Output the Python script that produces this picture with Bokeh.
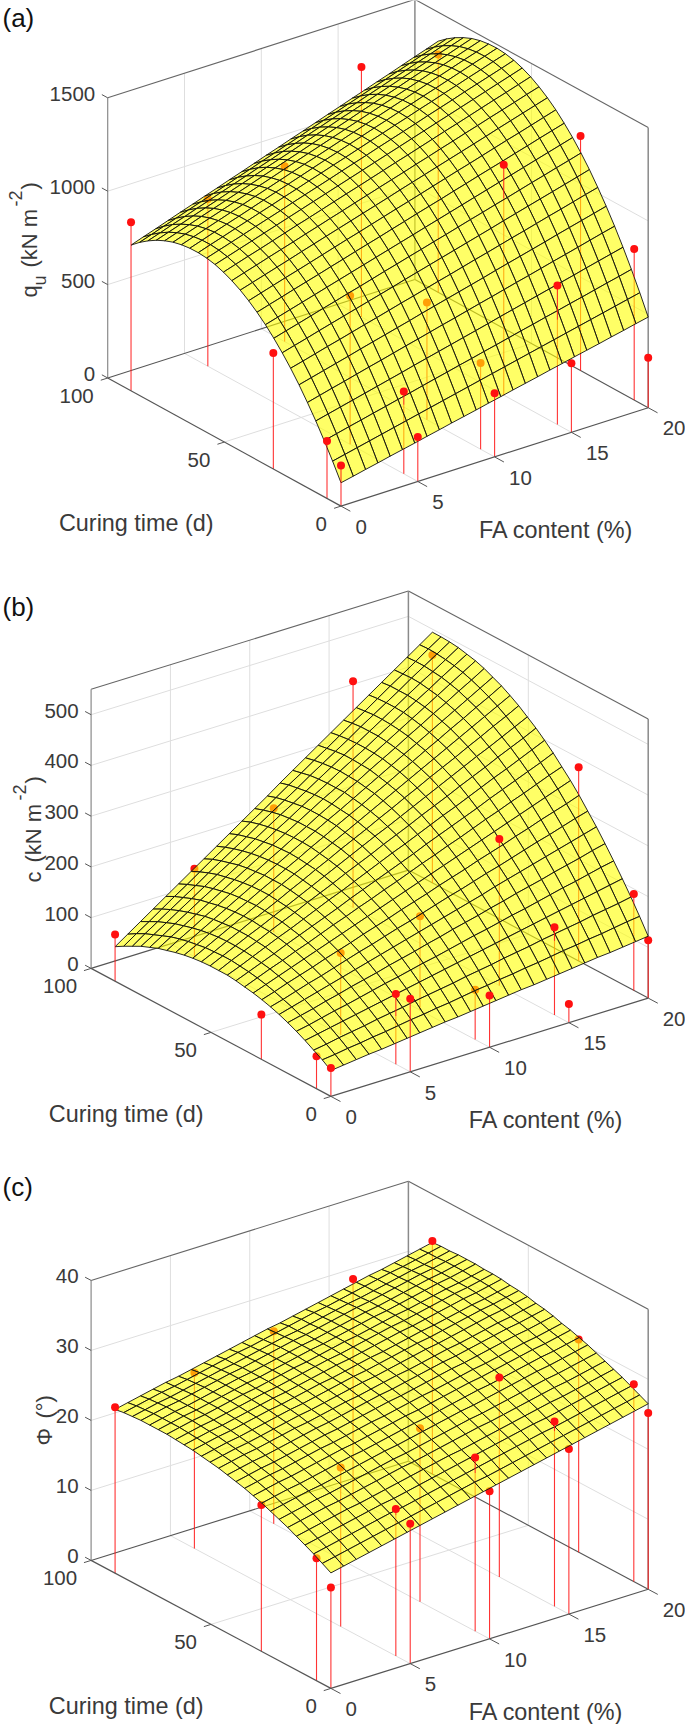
from bokeh.plotting import figure
from bokeh.layouts import column
from bokeh.embed import file_html
from bokeh.resources import INLINE
from bokeh.core.properties import value
import numpy as np

FA = [0.0,0.8,1.6,2.4,3.2,4.0,4.8,5.6,6.4,7.2,8.0,8.8,9.6,10.4,11.2,12.0,12.8,13.6,14.4,15.2,16.0,16.8,17.6,18.4,19.2,20.0]
CT = [0.0,3.6,7.2,10.8,14.4,18.0,21.6,25.2,28.8,32.4,36.0,39.6,43.2,46.8,50.4,54.0,57.6,61.2,64.8,68.4,72.0,75.6,79.2,82.8,86.4,90.0]

SURF_A = [
[125,139,154,168,183,197,211,226,240,255,269,283,298,312,327,341,355,370,384,399,413,427,442,456,471,485],
[216,231,246,261,276,291,306,321,336,351,366,381,396,411,426,441,456,471,486,501,516,531,546,561,576,591],
[301,317,333,348,364,379,395,410,426,442,457,473,488,504,519,535,551,566,582,597,613,628,644,660,675,691],
[382,398,414,430,446,462,478,494,511,527,543,559,575,591,607,624,640,656,672,688,704,720,737,753,769,785],
[456,473,490,506,523,540,556,573,590,606,623,640,656,673,690,706,723,740,756,773,790,806,823,840,857,873],
[526,543,560,577,594,612,629,646,663,680,698,715,732,749,766,783,801,818,835,852,869,887,904,921,938,955],
[590,607,625,643,660,678,696,713,731,749,766,784,802,819,837,855,872,890,908,925,943,961,978,996,1014,1031],
[648,666,684,703,721,739,757,775,793,811,830,848,866,884,902,920,938,956,975,993,1011,1029,1047,1065,1083,1102],
[701,720,738,757,776,794,813,831,850,869,887,906,924,943,961,980,999,1017,1036,1054,1073,1092,1110,1129,1147,1166],
[749,768,787,806,825,844,863,882,901,920,939,958,977,996,1015,1034,1053,1072,1091,1110,1129,1148,1167,1186,1205,1224],
[791,811,830,850,869,888,908,927,947,966,985,1005,1024,1044,1063,1082,1102,1121,1141,1160,1179,1199,1218,1238,1257,1276],
[828,848,868,888,907,927,947,967,987,1006,1026,1046,1066,1085,1105,1125,1145,1165,1184,1204,1224,1244,1263,1283,1303,1323],
[860,880,900,920,940,961,981,1001,1021,1041,1061,1081,1101,1122,1142,1162,1182,1202,1222,1242,1262,1283,1303,1323,1343,1363],
[886,907,927,948,968,988,1009,1029,1050,1070,1091,1111,1132,1152,1172,1193,1213,1234,1254,1275,1295,1316,1336,1356,1377,1397],
[907,928,949,969,990,1011,1032,1052,1073,1094,1115,1135,1156,1177,1198,1218,1239,1260,1281,1301,1322,1343,1364,1384,1405,1426],
[923,944,965,986,1007,1028,1049,1070,1091,1112,1133,1154,1175,1196,1217,1238,1259,1280,1301,1322,1343,1364,1385,1406,1427,1448],
[933,954,975,996,1018,1039,1060,1082,1103,1124,1145,1167,1188,1209,1231,1252,1273,1294,1316,1337,1358,1380,1401,1422,1443,1465],
[937,959,980,1002,1023,1045,1066,1088,1109,1131,1152,1174,1195,1217,1239,1260,1282,1303,1325,1346,1368,1389,1411,1432,1454,1475],
[936,958,980,1002,1023,1045,1067,1089,1110,1132,1154,1176,1197,1219,1241,1263,1284,1306,1328,1350,1371,1393,1415,1437,1458,1480],
[930,952,974,996,1018,1040,1062,1084,1106,1128,1150,1171,1193,1215,1237,1259,1281,1303,1325,1347,1369,1391,1413,1435,1456,1478],
[919,941,963,985,1007,1029,1051,1073,1095,1118,1140,1162,1184,1206,1228,1250,1272,1294,1316,1338,1360,1383,1405,1427,1449,1471],
[902,924,946,969,991,1013,1035,1057,1080,1102,1124,1146,1169,1191,1213,1235,1258,1280,1302,1324,1347,1369,1391,1413,1436,1458],
[880,902,924,947,969,991,1014,1036,1058,1081,1103,1125,1148,1170,1192,1215,1237,1259,1282,1304,1327,1349,1371,1394,1416,1438],
[852,874,897,919,942,964,987,1009,1031,1054,1076,1099,1121,1144,1166,1189,1211,1233,1256,1278,1301,1323,1346,1368,1391,1413],
[819,841,864,886,909,931,954,976,999,1021,1044,1066,1089,1111,1134,1157,1179,1202,1224,1247,1269,1292,1314,1337,1359,1382],
[780,803,825,848,871,893,916,938,961,983,1006,1029,1051,1074,1096,1119,1142,1164,1187,1209,1232,1254,1277,1300,1322,1345],
]
SURF_B = [
[51,54,57,60,62,65,68,71,74,77,79,82,85,88,91,94,96,99,102,105,108,111,113,116,119,122],
[63,66,70,73,77,80,84,88,91,95,98,102,106,109,113,116,120,123,127,131,134,138,141,145,149,152],
[73,77,82,86,90,95,99,103,108,112,116,120,125,129,133,138,142,146,151,155,159,163,168,172,176,181],
[83,88,93,98,103,108,113,118,123,128,133,138,143,148,153,158,163,168,173,178,183,188,193,198,203,208],
[92,97,103,109,114,120,126,132,137,143,149,154,160,166,172,177,183,189,194,200,206,212,217,223,229,234],
[100,106,112,119,125,132,138,144,151,157,163,170,176,183,189,195,202,208,215,221,227,234,240,246,253,259],
[107,114,121,128,135,142,149,156,163,170,177,184,191,198,205,212,219,227,234,241,248,255,262,269,276,283],
[113,120,128,136,143,151,159,167,174,182,190,197,205,213,221,228,236,244,251,259,267,275,282,290,298,305],
[118,126,135,143,151,160,168,176,185,193,201,210,218,226,235,243,251,260,268,276,285,293,302,310,318,327],
[122,131,140,149,158,167,176,185,194,203,212,221,230,239,248,257,266,275,284,293,302,311,320,329,338,347],
[125,135,145,154,164,173,183,193,202,212,221,231,240,250,260,269,279,288,298,308,317,327,336,346,356,365],
[128,138,148,158,169,179,189,199,209,220,230,240,250,260,270,281,291,301,311,321,332,342,352,362,372,383],
[130,140,151,162,173,183,194,205,216,226,237,248,259,270,280,291,302,313,323,334,345,356,366,377,388,399],
[130,142,153,164,176,187,198,210,221,232,244,255,266,278,289,300,312,323,334,346,357,368,380,391,402,414],
[130,142,154,166,177,189,201,213,225,237,249,261,273,285,296,308,320,332,344,356,368,380,391,403,415,427],
[129,141,154,166,179,191,203,216,228,241,253,266,278,290,303,315,328,340,353,365,377,390,402,415,427,440],
[127,140,153,166,179,192,205,218,231,243,256,269,282,295,308,321,334,347,360,373,386,399,412,425,438,451],
[124,137,151,164,178,191,205,218,232,245,259,272,286,299,312,326,339,353,366,380,393,407,420,434,447,461],
[120,134,148,162,176,190,204,218,232,246,260,274,288,301,315,329,343,357,371,385,399,413,427,441,455,469],
[115,130,144,159,173,188,202,216,231,245,260,274,289,303,318,332,347,361,375,390,404,419,433,448,462,477],
[110,125,139,154,169,184,199,214,229,244,259,274,289,304,318,333,348,363,378,393,408,423,438,453,468,483],
[103,118,134,149,165,180,195,211,226,241,257,272,288,303,318,334,349,364,380,395,411,426,441,457,472,487],
[96,111,127,143,159,175,191,206,222,238,254,270,285,301,317,333,349,364,380,396,412,428,444,459,475,491],
[87,104,120,136,152,168,185,201,217,233,250,266,282,298,315,331,347,363,380,396,412,428,445,461,477,493],
[78,95,111,128,145,161,178,195,211,228,245,261,278,295,311,328,344,361,378,394,411,428,444,461,478,494],
[68,85,102,119,136,153,170,187,204,221,238,255,272,290,307,324,341,358,375,392,409,426,443,460,477,494],
]
SURF_C = [
[16.5,16.9,17.3,17.7,18.1,18.5,18.9,19.3,19.7,20.1,20.5,20.9,21.3,21.7,22.1,22.5,22.9,23.3,23.7,24.1,24.5,24.9,25.3,25.7,26.1,26.5],
[17.2,17.6,18.0,18.4,18.8,19.2,19.6,20.0,20.4,20.8,21.2,21.6,22.0,22.3,22.7,23.1,23.5,23.9,24.3,24.7,25.1,25.5,25.9,26.3,26.7,27.1],
[17.9,18.3,18.7,19.1,19.5,19.9,20.3,20.6,21.0,21.4,21.8,22.2,22.6,23.0,23.4,23.8,24.2,24.6,25.0,25.3,25.7,26.1,26.5,26.9,27.3,27.7],
[18.5,18.9,19.3,19.7,20.1,20.5,20.9,21.2,21.6,22.0,22.4,22.8,23.2,23.6,24.0,24.4,24.8,25.2,25.6,25.9,26.3,26.7,27.1,27.5,27.9,28.3],
[19.1,19.5,19.9,20.3,20.7,21.0,21.4,21.8,22.2,22.6,23.0,23.4,23.8,24.1,24.5,24.9,25.3,25.7,26.1,26.5,26.9,27.2,27.6,28.0,28.4,28.8],
[19.7,20.1,20.5,20.9,21.2,21.6,22.0,22.4,22.8,23.2,23.5,23.9,24.3,24.7,25.1,25.5,25.8,26.2,26.6,27.0,27.4,27.8,28.1,28.5,28.9,29.3],
[20.2,20.6,21.0,21.4,21.7,22.1,22.5,22.9,23.3,23.7,24.0,24.4,24.8,25.2,25.6,26.0,26.3,26.7,27.1,27.5,27.9,28.3,28.6,29.0,29.4,29.8],
[20.7,21.1,21.5,21.9,22.2,22.6,23.0,23.4,23.8,24.2,24.5,24.9,25.3,25.7,26.1,26.5,26.8,27.2,27.6,28.0,28.4,28.8,29.1,29.5,29.9,30.3],
[21.2,21.6,22.0,22.3,22.7,23.1,23.5,23.9,24.2,24.6,25.0,25.4,25.8,26.1,26.5,26.9,27.3,27.7,28.0,28.4,28.8,29.2,29.6,29.9,30.3,30.7],
[21.6,22.0,22.4,22.7,23.1,23.5,23.9,24.3,24.6,25.0,25.4,25.8,26.2,26.5,26.9,27.3,27.7,28.1,28.4,28.8,29.2,29.6,30.0,30.3,30.7,31.1],
[22.0,22.4,22.8,23.1,23.5,23.9,24.3,24.6,25.0,25.4,25.8,26.1,26.5,26.9,27.3,27.6,28.0,28.4,28.8,29.1,29.5,29.9,30.3,30.6,31.0,31.4],
[22.3,22.7,23.1,23.4,23.8,24.2,24.6,25.0,25.3,25.7,26.1,26.5,26.9,27.2,27.6,28.0,28.4,28.8,29.1,29.5,29.9,30.3,30.7,31.0,31.4,31.8],
[22.6,23.0,23.4,23.7,24.1,24.5,24.9,25.3,25.6,26.0,26.4,26.8,27.2,27.5,27.9,28.3,28.7,29.1,29.4,29.8,30.2,30.6,31.0,31.3,31.7,32.1],
[22.9,23.3,23.7,24.0,24.4,24.8,25.2,25.5,25.9,26.3,26.7,27.0,27.4,27.8,28.2,28.5,28.9,29.3,29.7,30.0,30.4,30.8,31.2,31.5,31.9,32.3],
[23.1,23.5,23.9,24.2,24.6,25.0,25.4,25.8,26.1,26.5,26.9,27.3,27.7,28.0,28.4,28.8,29.2,29.6,29.9,30.3,30.7,31.1,31.5,31.8,32.2,32.6],
[23.3,23.7,24.1,24.4,24.8,25.2,25.6,26.0,26.3,26.7,27.1,27.5,27.9,28.2,28.6,29.0,29.4,29.8,30.1,30.5,30.9,31.3,31.7,32.0,32.4,32.8],
[23.5,23.9,24.3,24.6,25.0,25.4,25.8,26.1,26.5,26.9,27.3,27.6,28.0,28.4,28.8,29.1,29.5,29.9,30.3,30.6,31.0,31.4,31.8,32.1,32.5,32.9],
[23.6,24.0,24.4,24.7,25.1,25.5,25.9,26.3,26.6,27.0,27.4,27.8,28.2,28.5,28.9,29.3,29.7,30.1,30.4,30.8,31.2,31.6,32.0,32.3,32.7,33.1],
[23.7,24.1,24.5,24.8,25.2,25.6,26.0,26.4,26.7,27.1,27.5,27.9,28.3,28.6,29.0,29.4,29.8,30.2,30.5,30.9,31.3,31.7,32.1,32.4,32.8,33.2],
[23.8,24.2,24.6,24.9,25.3,25.7,26.1,26.4,26.8,27.2,27.6,27.9,28.3,28.7,29.1,29.4,29.8,30.2,30.6,30.9,31.3,31.7,32.1,32.4,32.8,33.2],
[23.8,24.2,24.6,24.9,25.3,25.7,26.1,26.5,26.8,27.2,27.6,28.0,28.4,28.7,29.1,29.5,29.9,30.3,30.6,31.0,31.4,31.8,32.2,32.5,32.9,33.3],
[23.8,24.2,24.6,24.9,25.3,25.7,26.1,26.5,26.8,27.2,27.6,28.0,28.4,28.7,29.1,29.5,29.9,30.3,30.6,31.0,31.4,31.8,32.2,32.5,32.9,33.3],
[23.8,24.2,24.6,24.9,25.3,25.7,26.1,26.5,26.8,27.2,27.6,28.0,28.4,28.7,29.1,29.5,29.9,30.3,30.6,31.0,31.4,31.8,32.2,32.5,32.9,33.3],
[23.7,24.1,24.5,24.8,25.2,25.6,26.0,26.4,26.7,27.1,27.5,27.9,28.3,28.6,29.0,29.4,29.8,30.2,30.5,30.9,31.3,31.7,32.1,32.4,32.8,33.2],
[23.6,24.0,24.4,24.8,25.1,25.5,25.9,26.3,26.7,27.1,27.4,27.8,28.2,28.6,29.0,29.4,29.7,30.1,30.5,30.9,31.3,31.7,32.0,32.4,32.8,33.2],
[23.4,23.8,24.2,24.6,25.0,25.3,25.7,26.1,26.5,26.9,27.3,27.7,28.1,28.4,28.8,29.2,29.6,30.0,30.4,30.8,31.2,31.5,31.9,32.3,32.7,33.1],
]

PT_FA = [0,5,10,15,20]
PT_CT = [90,29,6,0]
PTS_A = [[902,895,939,1339,1274],[621,795,628,1234,1255],[308,441,462,745,809],[217,238,341,370,268]]
PTS_B = [[92,173,244,446,449],[88,161,185,289,382],[64,138,98,173,190],[56,144,102,37,114]]
PTS_C = [[23.7,25.1,27.5,31.4,33.3],[20.9,22.7,24.8,28.5,30.4],[17.5,21.0,24.8,26.4,28.2],[14.4,20.0,21.1,23.6,25.2]]

FA_TICKS=[0,5,10,15,20]
CT_TICKS=[0,50,100]
FONT=value("Liberation Sans")
TXT="#3a3a3a"

def panel(y0,y1,letter,letter_xy,org,vf,vt,zmax,ztop,zticks,surf,pts,ylab):
    p=figure(width=685,height=y1-y0,x_range=(0,685),y_range=(y1,y0),output_backend="svg",toolbar_location=None,
             x_axis_location=None,y_axis_location=None,min_border=0,outline_line_color=None)
    p.grid.visible=False
    k=ztop/zmax
    def P(f,t,z):
        return org[0]+vf[0]*f+vt[0]*t, org[1]+vf[1]*f+vt[1]*t-k*z
    def seg(a,b,color,w,alpha=1.0):
        xa,ya=P(*a);xb,yb=P(*b)
        p.line([xa,xb],[ya,yb],line_color=color,line_width=w,line_alpha=alpha)
    G="#dedede"
    for f in FA_TICKS[1:-1]:
        seg((f,0,0),(f,100,0),G,1); seg((f,100,0),(f,100,zmax),G,1)
    seg((0,50,0),(20,50,0),G,1); seg((20,50,0),(20,50,zmax),G,1)
    for z in zticks[1:]:
        if z<zmax:
            seg((0,100,z),(20,100,z),G,1)
            seg((20,100,z),(20,0,z),G,1)
    D="#555555"; V="#8a8a8a"
    seg((0,100,0),(20,100,0),D,1.1); seg((20,100,0),(20,0,0),D,1.1)
    seg((0,100,zmax),(20,100,zmax),"#666666",1.1); seg((20,100,zmax),(20,0,zmax),"#666666",1.1)
    seg((0,100,0),(0,100,zmax),V,1.2); seg((20,100,0),(20,100,zmax),V,1.5); seg((20,0,0),(20,0,zmax),V,1.5)
    surf=np.asarray(surf)
    def height_at(f,t):
        c=[np.interp(t,CT,surf[:,i]) for i in range(len(FA))]
        return float(np.interp(f,FA,c))
    over=[]
    R="#ff1010"
    for ti,t in enumerate(PT_CT):
        for fi,f in enumerate(PT_FA):
            z=pts[ti][fi]; s=height_at(f,t)
            zs=min(z,s)
            x0,y_0=P(f,t,0);x1,y_1=P(f,t,zs)
            p.line([x0,x1],[y_0,y_1],line_color=R,line_width=1.1,line_alpha=.85)
            if z>s:
                over.append((f,t,s,z))
            else:
                xm,ym=P(f,t,z)
                p.scatter([xm],[ym],size=8,fill_color=R,line_color=None)
    xs=[];ys=[]
    n=len(CT);m=len(FA)
    for j in range(n-2,-1,-1):
        for i in range(m-2,-1,-1):
            c=[(i,j),(i+1,j),(i+1,j+1),(i,j+1)]
            q=[P(FA[a],CT[b],surf[b,a]) for a,b in c]
            xs.append([u[0] for u in q]);ys.append([u[1] for u in q])
    p.patches(xs,ys,fill_color="#ffff00",fill_alpha=.6,line_color="#111111",line_width=.9,line_join="round")
    for f,t,s,z in over:
        x0,y_0=P(f,t,s);x1,y_1=P(f,t,z)
        p.line([x0,x1],[y_0,y_1],line_color=R,line_width=1.1,line_alpha=.85)
        p.scatter([x1],[y_1],size=8,fill_color=R,line_color=None)
    seg((0,0,0),(20,0,0),D,1.2); seg((0,0,0),(0,100,0),D,1.2)
    TS=dict(text_font=FONT,text_font_size="20.5px",text_color=TXT,text_baseline="middle")
    for f in FA_TICKS:
        seg((f,0,0),(f,-4,0),D,1)
        x,y=P(f,0,0)
        p.text([x+14.5],[y+20.7],text=[str(f)],text_align="left",**TS)
    for t in CT_TICKS:
        seg((0,t,0),(-.45,t,0),D,1)
        x,y=P(0,t,0)
        p.text([x-14],[y+18],text=[str(t)],text_align="right",**TS)
    for z in zticks:
        seg((0,100,z),(0,102.5,z),D,1)
        x,y=P(0,100,z)
        p.text([x-12.5],[y-4],text=[str(z)],text_align="right",**TS)
    LS=dict(text_font=FONT,text_font_size="23.4px",text_color=TXT,text_baseline="middle")
    x,y=P(0,0,0)
    p.text([x-204.7],[y+17.2],text=["Curing time (d)"],text_align="center",**LS)
    p.text([x+215.3],[y+24],text=["FA content (%)"],text_align="center",**LS)
    p.text([letter_xy[0]],[letter_xy[1]],text=[letter],text_align="left",text_font=FONT,text_font_size="26px",text_color="#111111",text_baseline="middle")
    for s,xx,yy,size in ylab:
        p.text([xx],[yy],text=[s],angle=np.pi/2,text_align="left",text_baseline="alphabetic",text_font=FONT,text_font_size=size,text_color=TXT)
    return p

pa=panel(0,566,"(a)",(2,17),(340.5,505.6),(15.36,-4.92),(-2.333,-1.281),1500,280.2,[0,500,1000,1500],SURF_A,PTS_A,
  [("q",29,297,"22px"),("u",39,285,"18px"),("(kN m",29,267,"22px"),("-2",15,206,"18px"),(")",29,189,"22px")])
pb=panel(566,1150,"(b)",(2,606),(330.4,1095.9),(15.865,-4.915),(-2.398,-1.28),550,279.1,[0,100,200,300,400,500],SURF_B,PTS_B,
  [("c",33,882,"22px"),("(kN m",33,862,"22px"),("-2",19,800,"18px"),(")",33,783,"22px")])
pc=panel(1150,1724,"(c)",(2,1186),(330.4,1687.9),(15.865,-4.955),(-2.398,-1.28),40,280,[0,10,20,30,40],SURF_C,PTS_C,
  [("\u03a6",44,1445,"22px"),("(\u00b0)",44,1418,"22px")])
open("out.html","w").write(file_html(column(pa,pb,pc,spacing=0),INLINE))
